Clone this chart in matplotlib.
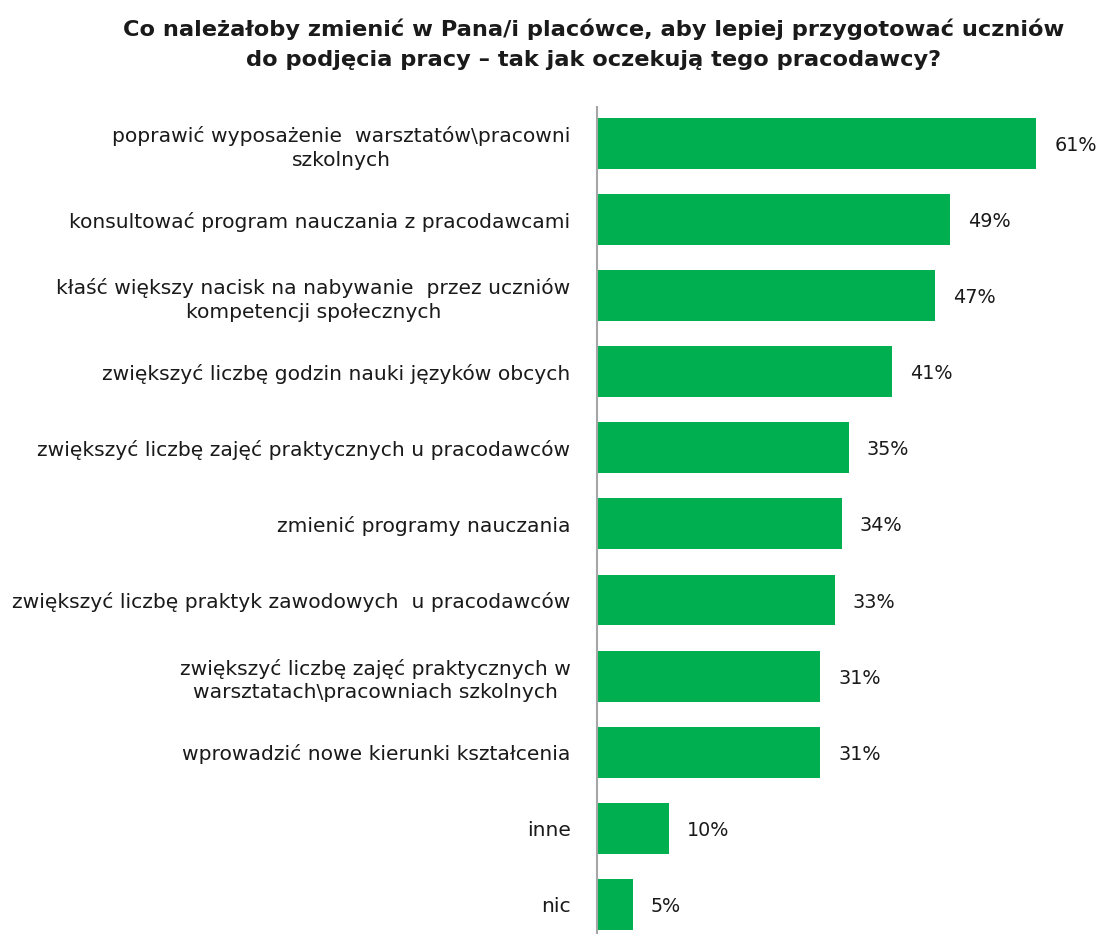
import matplotlib
matplotlib.use("Agg")
import matplotlib.pyplot as plt

categories = [
    "poprawić wyposażenie  warsztatów\\pracowni\nszkolnych",
    "konsultować program nauczania z pracodawcami",
    "kłaść większy nacisk na nabywanie  przez uczniów\nkompetencji społecznych",
    "zwiększyć liczbę godzin nauki języków obcych",
    "zwiększyć liczbę zajęć praktycznych u pracodawców",
    "zmienić programy nauczania",
    "zwiększyć liczbę praktyk zawodowych  u pracodawców",
    "zwiększyć liczbę zajęć praktycznych w\nwarsztatach\\pracowniach szkolnych",
    "wprowadzić nowe kierunki kształcenia",
    "inne",
    "nic",
]
values = [61, 49, 47, 41, 35, 34, 33, 31, 31, 10, 5]
value_labels = ["61%", "49%", "47%", "41%", "35%", "34%", "33%", "31%", "31%", "10%", "5%"]
title = "Co należałoby zmienić w Pana/i placówce, aby lepiej przygotować uczniów\ndo podjęcia pracy – tak jak oczekują tego pracodawcy?"

W, H = 1099, 934
fig = plt.figure(figsize=(W / 100, H / 100), dpi=100)
ax = fig.add_axes([597 / W, 0, (W - 597) / W, (934 - 107) / H])

green = "#00B050"
font = "DejaVu Sans"
y = list(range(len(values)))
ax.barh(y, values, height=0.67, color=green, zorder=2)
ax.set_xlim(0, (W - 597) / 7.2)
ax.set_ylim(10.39, -0.48)

for yi, v, lab in zip(y, values, value_labels):
    ax.annotate(lab, (v, yi), xytext=(18, -2), textcoords="offset pixels",
                ha="left", va="center", fontsize=13.8, family=font, color="#1a1a1a")

ax.set_yticks(y)
ax.set_yticklabels(categories, fontsize=14.6, family=font, color="#1a1a1a",
                   multialignment="center", linespacing=1.3)
ax.tick_params(axis="y", length=0, pad=19)
ax.set_xticks([])
for s in ["top", "right", "bottom"]:
    ax.spines[s].set_visible(False)
ax.spines["left"].set_color("#a6a6a6")
ax.spines["left"].set_linewidth(1.5)

fig.text(594 / W, 1 - 44 / H, title, ha="center", va="center", fontsize=16.2, fontweight="bold",
         family=font, color="#1a1a1a", linespacing=1.6)

fig.savefig("out.png", dpi=100)
